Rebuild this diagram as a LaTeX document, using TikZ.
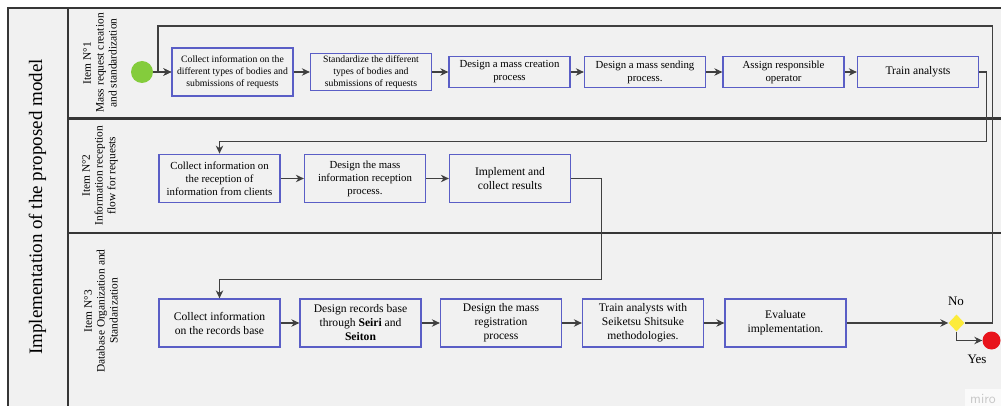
\documentclass[tikz,border=0pt]{standalone}
\usepackage{fontspec}
\setmainfont{Liberation Serif}
\usetikzlibrary{arrows.meta,shapes.geometric}
\definecolor{bg}{HTML}{F1F1F1}
\definecolor{boxline}{HTML}{5A5EC6}
\definecolor{laneline}{HTML}{363636}
\definecolor{conn}{HTML}{404040}
\definecolor{startgreen}{HTML}{84CC3C}
\definecolor{endred}{HTML}{E8131B}
\definecolor{gateyellow}{HTML}{FCEB3A}
\begin{document}
\begin{tikzpicture}[x=1pt,y=-1pt,
  lane/.style={draw=laneline, line width=2.2pt},
  stepbox/.style={draw=boxline, line width=1.3pt, fill=bg, align=center,
    inner sep=1pt, minimum width=121pt},
  fa/.style={font=\fontsize{9.7}{11.7}\selectfont},
  fb/.style={font=\fontsize{10.8}{13}\selectfont},
  fc/.style={font=\fontsize{11.6}{14}\selectfont},
  lanelabel/.style={rotate=90, align=center, font=\fontsize{11.4}{12.8}\selectfont},
  flow/.style={draw=conn, line width=1.1pt, -{Stealth[length=8pt,width=7.5pt]}},
]
\useasboundingbox (0,0) rectangle (1001,406);
\fill[white] (0,0) rectangle (1001,406);
\fill[bg] (8,8) rectangle (1001,406);
\fill[black!2] (965,389) rectangle (1001,406);

% pool frame and lanes
\draw[lane] (8,406) -- (8,8) -- (1001,8);
\draw[lane] (68,8) -- (68,406);
\draw[lane] (68,118.5) -- (1001,118.5);
\draw[lane] (68,233) -- (1001,233);

\node[rotate=90, font=\fontsize{19}{19}\selectfont] (title) at (37.5,207) {Implementation of the proposed model};
\node[lanelabel] (lane1) at (100,63) {Item N°1\\Mass request creation\\and standardization};
\node[lanelabel] (lane2) at (100,175.5) {Item N°2\\Information reception\\flow for requests};
\node[lanelabel] (lane3) at (101,311) {Item N°3\\Database Organization and\\Standarization};

% lane 1
\node[circle, fill=startgreen, minimum size=22pt, inner sep=0pt] (start) at (142,72) {};
\node[stepbox, fa, minimum height=48pt] (a1) at (232.5,72) {Collect information on the\\different types of bodies and\\submissions of requests};
\node[stepbox, fa, minimum height=37pt] (a2) at (371,72) {Standardize the different\\types of bodies and\\submissions of requests};
\node[stepbox, fb, minimum height=30.5pt] (a3) at (509.5,72) {Design a mass creation\\process};
\node[stepbox, fb, minimum height=30.5pt] (a4) at (645,72) {Design a mass sending\\process.};
\node[stepbox, fb, minimum height=30.5pt] (a5) at (783.5,72) {Assign responsible\\operator};
\node[stepbox, fc, minimum height=30.5pt] (a6) at (918,72) {Train analysts};

% lane 2
\node[stepbox, fb, minimum height=48.5pt] (b1) at (219.5,178.5) {Collect information on\\the reception of\\information from clients};
\node[stepbox, fb, minimum height=48.5pt] (b2) at (365,178.5) {Design the mass\\information reception\\process.};
\node[stepbox, fc, minimum height=48.5pt] (b3) at (510,178.5) {Implement and\\collect results};

% lane 3
\node[stepbox, fc, minimum height=48pt] (c1) at (219.5,323) {Collect information\\on the records base};
\node[stepbox, fc, minimum height=48pt] (c2) at (360.5,323) {Design records base\\through \textbf{Seiri} and\\\textbf{Seiton}};
\node[stepbox, fc, minimum height=48pt] (c3) at (501,323) {Design the mass\\registration\\process};
\node[stepbox, fc, minimum height=48pt] (c4) at (643,323) {Train analysts with\\Seiketsu Shitsuke\\methodologies.};
\node[stepbox, fc, minimum height=48pt] (c5) at (785.5,323) {Evaluate\\implementation.};

\node[diamond, fill=gateyellow, minimum width=16pt, minimum height=17pt, inner sep=0pt] (gate) at (956.5,323) {};
\node[circle, fill=endred, minimum size=18pt, inner sep=0pt] (stop) at (991.5,340.5) {};
\node[font=\fontsize{13}{13}\selectfont] (nolbl) at (956,301.5) {No};
\node[font=\fontsize{13}{13}\selectfont] (yeslbl) at (977,359) {Yes};
\node[text=black!22, font=\sffamily\fontsize{14}{14}\selectfont, anchor=base west, inner sep=0pt] (mark) at (970,403) {miro};

% connectors
\coordinate (ret) at (158,26);
\draw[flow] (start) -- (a1);
\draw[flow] (a1) -- (a2);
\draw[flow] (a2) -- (a3);
\draw[flow] (a3) -- (a4);
\draw[flow] (a4) -- (a5);
\draw[flow] (a5) -- (a6);
\draw[flow] (a6.east) -- ++(7.5,0) -- ++(0,69.5) -| (b1.north);
\draw[flow] (b1) -- (b2);
\draw[flow] (b2) -- (b3);
\draw[flow] (b3.east) -- ++(30,0) -- ++(0,101) -| (c1.north);
\draw[flow] (c1) -- (c2);
\draw[flow] (c2) -- (c3);
\draw[flow] (c3) -- (c4);
\draw[flow] (c4) -- (c5);
\draw[flow] (c5) -- (gate);
\draw[flow] (gate.east) -| (992.5,26) -- (ret) |- (a1.west);
\draw[flow] (gate.south) |- (stop.west);
\end{tikzpicture}
\end{document}
